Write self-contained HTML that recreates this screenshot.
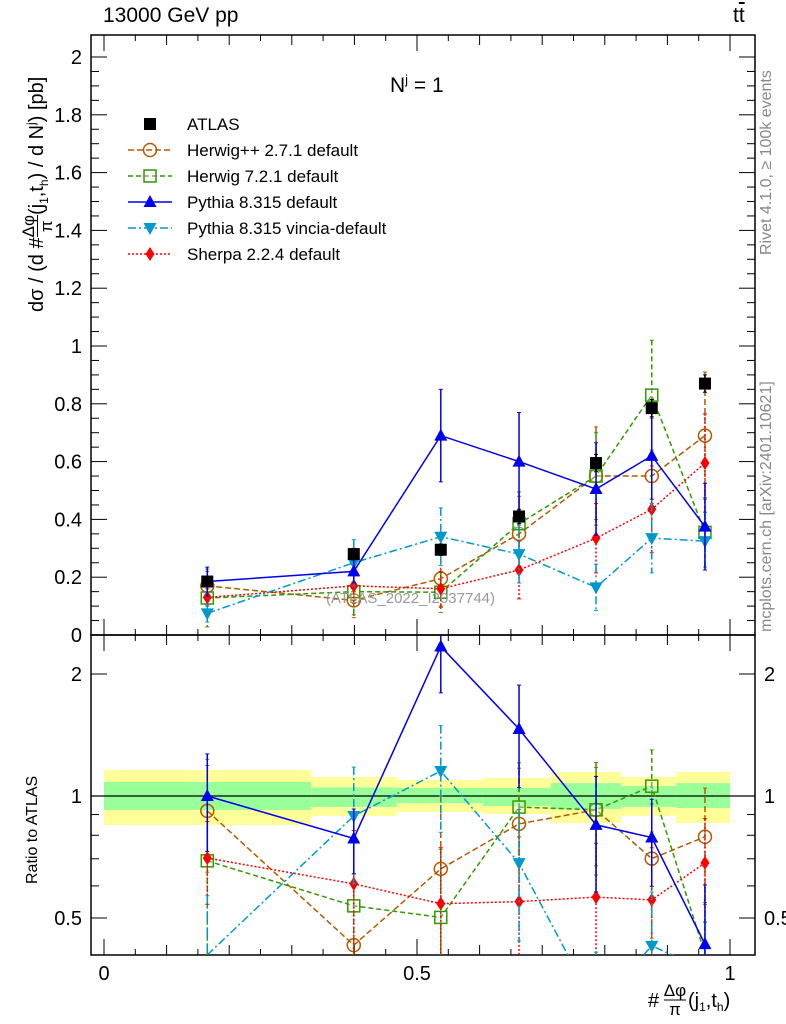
<!DOCTYPE html>
<html><head><meta charset="utf-8"><style>
html,body{margin:0;background:#fff;width:786px;height:1024px;overflow:hidden;}
svg text{font-family:"Liberation Sans",sans-serif;}
</style></head><body>
<svg id="c" width="786" height="1024" xmlns="http://www.w3.org/2000/svg" style="position:absolute;left:0;top:0">
<defs><clipPath id="cp1"><rect x="91" y="35" width="664" height="600"/></clipPath><clipPath id="cp2"><rect x="91" y="635" width="664" height="320"/></clipPath></defs>
</svg>
<script>
const xs=[0.165,0.399,0.538,0.663,0.786,0.875,0.96];
const binEdges=[0,0.331,0.468,0.605,0.714,0.826,0.914,1];
const atlas=[0.185,0.28,0.295,0.41,0.595,0.785,0.87];
const atlasErr=[0.015,0.02,0.02,0.025,0.03,0.03,0.03];
const herwigpp=[0.17,0.12,0.195,0.35,0.55,0.55,0.69];
const herwigppErr=[0.05,0.06,0.1,0.13,0.17,0.2,0.22];
const herwig7=[0.128,0.15,0.148,0.385,0.55,0.83,0.355];
const herwig7Err=[0.1,0.08,0.07,0.11,0.15,0.19,0.12];
const pythia=[0.185,0.22,0.69,0.60,0.505,0.62,0.375];
const pythiaErr=[0.05,0.04,0.16,0.17,0.16,0.15,0.15];
const vincia=[0.075,0.25,0.34,0.28,0.165,0.335,0.325];
const vinciaErr=[0.03,0.08,0.1,0.1,0.08,0.12,0.1];
const sherpa=[0.13,0.17,0.16,0.225,0.335,0.435,0.595];
const sherpaErr=[0.03,0.06,0.06,0.1,0.12,0.15,0.17];
const band1Up=[1.083,1.05,1.046,1.046,1.076,1.058,1.076];
const band1Dn=[0.924,0.94,0.96,0.945,0.929,0.94,0.934];
const band2Up=[1.159,1.114,1.095,1.108,1.146,1.114,1.146];
const band2Dn=[0.848,0.893,0.913,0.903,0.858,0.893,0.858];
const yTicks=[0,0.2,0.4,0.6,0.8,1,1.2,1.4,1.6,1.8,2];
const yTickLabels=["0","0.2","0.4","0.6","0.8","1","1.2","1.4","1.6","1.8","2"];
const rTicks=[0.5,1,2];
const rTickLabels=["0.5","1","2"];
const xTicks=[0,0.5,1];
const xTickLabels=["0","0.5","1"];

const NS="http://www.w3.org/2000/svg";
const svg=document.getElementById('c');
const L=91,R=755,T1=35,B1=635,B2=955;
const X=v=>104+626*v;
const Y=v=>635-289*v;
const RY=r=>796-122*Math.log2(r);
function mk(tag,attrs,parent){const e=document.createElementNS(NS,tag);for(const k in attrs)e.setAttribute(k,attrs[k]);(parent||svg).appendChild(e);return e;}

const gb=mk('g',{});


for(let i=0;i<xs.length;i++){
  const x0=X(binEdges[i]),x1=X(binEdges[i+1]);
  const r1=mk('rect',{x:x0,y:RY(band2Up[i]),width:x1-x0,height:RY(band2Dn[i])-RY(band2Up[i]),fill:'#ffff99'},gb);
  
  
  const r2=mk('rect',{x:x0,y:RY(band1Up[i]),width:x1-x0,height:RY(band1Dn[i])-RY(band1Up[i]),fill:'#99ff99'},gb);
  
  
}
const one=mk('line',{x1:L,x2:R,y1:RY(1),y2:RY(1),stroke:'#000','stroke-width':1.3});



const f1=mk('rect',{x:L,y:T1,width:R-L,height:B1-T1,fill:'none',stroke:'#000','stroke-width':1.5});


const f2=mk('rect',{x:L,y:B1,width:R-L,height:B2-B1,fill:'none',stroke:'#000','stroke-width':1.5});



const gt=mk('g',{stroke:'#000','stroke-width':1});


for(let v=0;v<=2.05;v+=0.05){
  const maj=Math.abs(v*5-Math.round(v*5))<1e-6;const len=maj?16:8;const y=Y(v);
  if(y<T1)continue;
  mk('line',{x1:L,x2:L+len,y1:y,y2:y},gt);mk('line',{x1:R,x2:R-len,y1:y,y2:y},gt);
}
[0.5,0.6,0.7,0.8,0.9,1,2].forEach(r=>{const maj=rTicks.includes(r);const len=maj?16:8;const y=RY(r);
  mk('line',{x1:L,x2:L+len,y1:y,y2:y},gt);mk('line',{x1:R,x2:R-len,y1:y,y2:y},gt);});
for(let v=0;v<=1.04;v+=0.05){const k=Math.round(v*20);const maj=k%10==0, mid=k%2==0;const len=maj?16:(mid?10:6);const x=X(k/20);
  mk('line',{x1:x,x2:x,y1:B2,y2:B2-len},gt);mk('line',{x1:x,x2:x,y1:B1,y2:B1-len},gt);mk('line',{x1:x,x2:x,y1:B1,y2:B1+len},gt);mk('line',{x1:x,x2:x,y1:T1,y2:T1+len},gt);}

function txt(s,attrs,name){const t=mk('text',attrs);t.textContent=s;return t;}
yTicks.forEach((v,i)=>txt(yTickLabels[i],{x:82,y:Y(v)+7,'font-size':20,'text-anchor':'end'},'y-tick-label'));
rTicks.forEach((v,i)=>{txt(rTickLabels[i],{x:82,y:RY(v)+7,'font-size':20,'text-anchor':'end'},'ratio-tick-label-left');
  txt(rTickLabels[i],{x:764,y:RY(v)+7,'font-size':20},'ratio-tick-label-right');});
xTicks.forEach((v,i)=>txt(xTickLabels[i],{x:X(v),y:980,'font-size':20,'text-anchor':'middle'},'x-tick-label'));

const xt=mk('g',{});


const a1=mk('text',{x:648,y:1007,'font-size':20},xt);a1.textContent='#';
const a2=mk('text',{x:675,y:996,'font-size':17,'text-anchor':'middle'},xt);a2.textContent='Δφ';
mk('line',{x1:664,x2:686,y1:1000,y2:1000,stroke:'#000','stroke-width':1},xt);
const a3=mk('text',{x:675,y:1015,'font-size':17,'text-anchor':'middle'},xt);a3.textContent='π';
const a4=mk('text',{x:688,y:1007,'font-size':20},xt);
a4.innerHTML='(j<tspan font-size="12" dy="4">1</tspan><tspan dy="-4">,t</tspan><tspan font-size="12" dy="4">h</tspan><tspan dy="-4">)</tspan>';

function drawSeries(name,vals,errs,color,dash,marker,ratio){
  const g=mk('g',{'clip-path':ratio?'url(#cp2)':'url(#cp1)'});
  
  
  const yf=ratio?(v=>RY(Math.min(Math.max(v,0.3),3))):(v=>Math.max(Y(v),20));
  const pts=vals.map((v,i)=>ratio?v/atlas[i]:v);
  const lo=vals.map((v,i)=>ratio?(v-errs[i])/atlas[i]:v-errs[i]);
  const hi=vals.map((v,i)=>ratio?(v+errs[i])/atlas[i]:v+errs[i]);
  if(dash!==null){
    const d=pts.map((p,i)=>(i?'L':'M')+X(xs[i])+','+yf(p)).join(' ');
    const pl=mk('path',{d:d,fill:'none',stroke:color,'stroke-width':1.5,'stroke-dasharray':dash},g);
    
    
  }
  pts.forEach((p,i)=>{
    const x=X(xs[i]);const y1=yf(hi[i]),y2=yf(lo[i]);
    mk('line',{x1:x,x2:x,y1:y1,y2:y2,stroke:color,'stroke-width':1.5,'stroke-dasharray':dash||''},g);
    mk('line',{x1:x-2,x2:x+2,y1:y1,y2:y1,stroke:color},g);mk('line',{x1:x-2,x2:x+2,y1:y2,y2:y2,stroke:color},g);
    const y=yf(p);if(y<(ratio?B1:T1)||y>(ratio?B2-4:B1))return;
    drawMarker(g,marker,x,y,color,name+'-marker');
  });
}
function drawMarker(g,m,x,y,color,nm){
  let e;
  if(m==='sq')e=mk('rect',{x:x-6,y:y-6,width:12,height:12,fill:'#000'},g);
  else if(m==='osq')e=mk('rect',{x:x-6,y:y-6,width:12,height:12,fill:'#fff','fill-opacity':0.3,stroke:color,'stroke-width':1.5},g);
  else if(m==='oc')e=mk('circle',{cx:x,cy:y,r:6.5,fill:'none',stroke:color,'stroke-width':1.5},g);
  else if(m==='tu')e=mk('path',{d:`M${x},${y-7}L${x+6.5},${y+5}L${x-6.5},${y+5}Z`,fill:color},g);
  else if(m==='td')e=mk('path',{d:`M${x},${y+7}L${x+6.5},${y-5}L${x-6.5},${y-5}Z`,fill:color},g);
  else e=mk('path',{d:`M${x},${y-7}L${x+4.5},${y}L${x},${y+7}L${x-4.5},${y}Z`,fill:color},g);
  
  
}
const series=[
 ['herwigpp',herwigpp,herwigppErr,'#b35900','6,3','oc'],
 ['herwig7',herwig7,herwig7Err,'#339900','5,3','osq'],
 ['sherpa',sherpa,sherpaErr,'#ff0000','2,2','dia'],
 ['vincia',vincia,vinciaErr,'#0099cc','8,3,2,3','td'],
 ['pythia',pythia,pythiaErr,'#0000ee','','tu']];
series.forEach(s=>drawSeries(s[0],s[1],s[2],s[3],s[4],s[5],false));
drawSeries('atlas',atlas,atlasErr,'#000',null,'sq',false);
series.forEach(s=>drawSeries(s[0],s[1],s[2],s[3],s[4],s[5],true));

const legend=[['ATLAS','#000',null,'sq'],['Herwig++ 2.7.1 default','#b35900','6,3','oc'],['Herwig 7.2.1 default','#339900','5,3','osq'],
 ['Pythia 8.315 default','#0000ee','','tu'],['Pythia 8.315 vincia-default','#0099cc','8,3,2,3','td'],['Sherpa 2.2.4 default','#ff0000','2,2','dia']];
const lg=mk('g',{});


legend.forEach((e,i)=>{const y=124+26*i;
  if(e[2]!==null)mk('line',{x1:128,x2:172,y1:y,y2:y,stroke:e[1],'stroke-width':1.5,'stroke-dasharray':e[2]},lg);
  drawMarker(lg,e[3],150,y,e[1],'legend-marker');
  const t=mk('text',{x:187,y:y+6,'font-size':17},lg);t.textContent=e[0];
  
  });
</script>
<div style="position:absolute;left:0;top:0;width:786px;height:1024px;overflow:hidden;pointer-events:none;font-family:'Liberation Sans',sans-serif;">
 <div style="position:absolute;left:103px;top:4px;font-size:21px;">13000 GeV pp</div>
 <div style="position:absolute;left:733px;top:4px;font-size:21px;">t<span style="text-decoration:overline">t</span></div>
 <div style="position:absolute;left:390px;top:72px;font-size:21px;">N<sup style="font-size:13px">j</sup> = 1</div>
 <div style="position:absolute;left:326px;top:590px;font-size:15px;color:#999;">(ATLAS_2022_I2037744)</div>
 <div style="position:absolute;left:758px;top:255px;transform-origin:0 0;transform:rotate(-90deg);font-size:16px;color:#888;white-space:nowrap;">Rivet 4.1.0, ≥ 100k events</div>
 <div style="position:absolute;left:758px;top:632px;transform-origin:0 0;transform:rotate(-90deg);font-size:16px;color:#888;white-space:nowrap;">mcplots.cern.ch [arXiv:2401.10621]</div>
 <div style="position:absolute;left:20px;top:312px;transform-origin:0 0;transform:rotate(-90deg);font-size:20px;white-space:nowrap;">dσ / (d #<span style="display:inline-block;vertical-align:middle;text-align:center;font-size:17px;line-height:17px"><span style="display:block;border-bottom:1px solid #000">Δφ</span>π</span>(j<sub style="font-size:12px">1</sub>,t<sub style="font-size:12px">h</sub>) / d N<sup style="font-size:12px">j</sup>) [pb]</div>
 <div style="position:absolute;left:24px;top:884px;transform-origin:0 0;transform:rotate(-90deg);font-size:16px;white-space:nowrap;">Ratio to ATLAS</div>
</div>
</body></html>
